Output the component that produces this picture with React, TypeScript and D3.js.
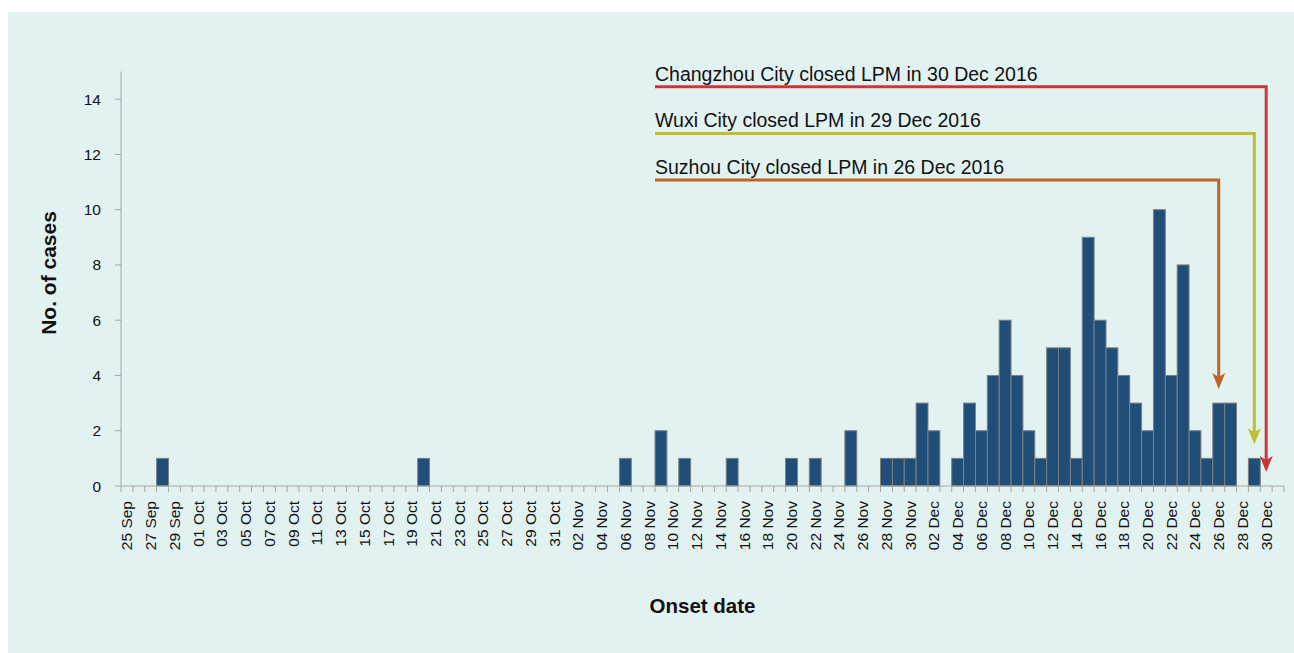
import * as d3 from "d3";
import React from "react";

// daily onset counts, 25 Sep – 31 Dec 2016
const sepValues = [0, 0, 0, 1, 0, 0]; // 25–30 Sep
const octValues = [
  0, 0, 0, 0, 0, 0, 0, 0, 0, 0,
  0, 0, 0, 0, 0, 0, 0, 0, 0, 1,
  0, 0, 0, 0, 0, 0, 0, 0, 0, 0, 0,
];
const novValues = [
  0, 0, 0, 0, 0, 1, 0, 0, 2, 0,
  1, 0, 0, 0, 1, 0, 0, 0, 0, 1,
  0, 1, 0, 0, 2, 0, 0, 1, 1, 1,
];
const decValues = [
  3, 2, 0, 1, 3, 2, 4, 6, 4, 2,
  1, 5, 5, 1, 9, 6, 5, 4, 3, 2,
  10, 4, 8, 2, 1, 3, 3, 0, 1, 0, 0,
];
const values = [...sepValues, ...octValues, ...novValues, ...decValues];

const startDate = new Date(2016, 8, 25);
const days = d3.timeDay.range(startDate, d3.timeDay.offset(startDate, values.length));
const fmt = d3.timeFormat("%d %b");
const categories = days.map(fmt);
const tickLabels = categories.filter((_, i) => i % 2 === 0);

const yTicks = [0, 2, 4, 6, 8, 10, 12, 14];

const annotations = [
  { text: "Changzhou City closed LPM in 30 Dec 2016", date: "30 Dec" },
  { text: "Wuxi City closed LPM in 29 Dec 2016", date: "29 Dec" },
  { text: "Suzhou City closed LPM in 26 Dec 2016", date: "26 Dec" },
];
const annotationColors = ["#c8383b", "#bfbf2e", "#bd6427"];

const W = 1294;
const H = 653;
const margin = { left: 121, right: 10, top: 71.5, bottom: 167 };
const font = "'Liberation Sans', Arial, sans-serif";

export default function App() {
  const x = d3
    .scaleBand<string>()
    .domain(categories)
    .range([margin.left, 1284])
    .paddingInner(0)
    .paddingOuter(0);
  const y = d3.scaleLinear().domain([0, 15]).range([486, margin.top]);
  const bw = x.bandwidth();
  const axisColor = "#a6a6a6";
  const baseY = y(0);
  const valueByCat = new Map(categories.map((c, i) => [c, values[i]]));

  return (
    <svg
      width={W}
      height={H}
      style={{ position: "absolute", left: 0, top: 0, fontFamily: font }}
    >
      <rect x={8} y={12} width={W - 8} height={H - 12} fill="#e2f2f1" />

      {/* bars */}
      {categories.map((c, i) =>
        values[i] > 0 ? (
          <rect
            key={c}
            x={x(c)}
            y={y(values[i])}
            width={bw}
            height={baseY - y(values[i])}
            fill="#1f4e79"
            stroke="#7f7f7f"
            strokeWidth={1}
          />
        ) : null
      )}

      {/* y axis */}
      <line x1={margin.left} x2={margin.left} y1={margin.top} y2={baseY} stroke={axisColor} />
      {yTicks.map((t) => (
        <g key={t}>
          <line x1={margin.left - 6} x2={margin.left} y1={y(t)} y2={y(t)} stroke={axisColor} />
          <text
            x={margin.left - 20}
            y={y(t)}
            textAnchor="end"
            dominantBaseline="central"
            fontSize={15.5}
            fill="#111"
          >
            {t}
          </text>
        </g>
      ))}

      {/* x axis */}
      <line x1={margin.left} x2={x.range()[1]} y1={baseY} y2={baseY} stroke={axisColor} />
      {[...categories.map((c) => x(c)!), x.range()[1]].map((px, i) => (
        <line key={i} x1={px} x2={px} y1={baseY} y2={baseY + 6} stroke={axisColor} />
      ))}
      {tickLabels.map((c) => {
        const cx = x(c)! + bw / 2;
        return (
          <text
            key={c}
            transform={`translate(${cx},${baseY + 15}) rotate(-90)`}
            textAnchor="end"
            dominantBaseline="central"
            fontSize={15.5}
            fill="#111"
          >
            {c}
          </text>
        );
      })}

      {/* axis titles */}
      <text
        transform="translate(48,273) rotate(-90)"
        textAnchor="middle"
        dominantBaseline="central"
        fontSize={21}
        fontWeight="bold"
        fill="#111"
      >
        No. of cases
      </text>
      <text
        x={(margin.left + x.range()[1]) / 2}
        y={613}
        textAnchor="middle"
        fontSize={20.5}
        fontWeight="bold"
        fill="#111"
      >
        Onset date
      </text>

      {/* closure annotations */}
      {annotations.map((a, i) => {
        const lineY = 86.7 + i * 46.7;
        const ax = x(a.date)! + bw / 2;
        const tipY = y(valueByCat.get(a.date) ?? 0) - 14;
        const color = annotationColors[i];
        return (
          <g key={a.text}>
            <text x={655} y={lineY - 6} fontSize={19.5} fill="#111">
              {a.text}
            </text>
            <path
              d={`M655,${lineY} H${ax} V${tipY - 12}`}
              fill="none"
              stroke={color}
              strokeWidth={3}
            />
            <path
              d={`M${ax},${tipY} L${ax - 6.5},${tipY - 16} L${ax},${tipY - 12} L${ax + 6.5},${tipY - 16} Z`}
              fill={color}
            />
          </g>
        );
      })}
    </svg>
  );
}
